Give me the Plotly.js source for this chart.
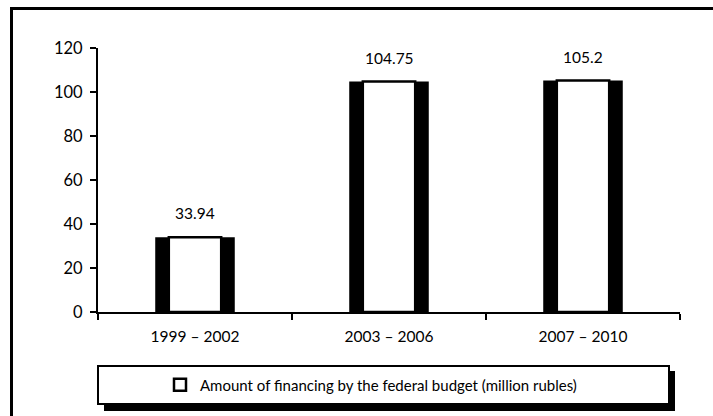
<!DOCTYPE html>
<html>
<head>
<meta charset="utf-8">
<script src="https://cdn.plot.ly/plotly-3.0.1.min.js"></script>
<style>html,body{margin:0;padding:0;background:#fff;}#chart{width:713px;height:416px;}</style>
</head>
<body>
<div id="chart"></div>
<script>
const categories = ["1999 – 2002", "2003 – 2006", "2007 – 2010"];
const values = [33.94, 104.75, 105.2];
const valueLabels = ["33.94", "104.75", "105.2"];
const seriesName = "Amount of financing by the federal budget (million rubles)";
const yTicks = [0, 20, 40, 60, 80, 100, 120];

const FONT = "Lato, 'Open Sans', sans-serif";

const traces = [
  {
    type: "bar", x: categories, y: values, width: 0.41,
    marker: {color: "#000", line: {width: 0}},
    showlegend: false, hoverinfo: "skip"
  },
  {
    type: "bar", x: categories, y: values, width: 0.27, name: seriesName,
    marker: {color: "#fff", line: {color: "#000", width: 2.5}},
    showlegend: true, hoverinfo: "skip"
  }
];

const annotations = categories.map((c, i) => ({
  x: c, y: values[i], xref: "x", yref: "y", text: valueLabels[i],
  showarrow: false, yshift: 24, yanchor: "middle",
  font: {family: FONT, size: 15.5, color: "#000"}
}));

const px = v => (v - 98) / 582;
const py = v => (312 - v) / 264;

const shapes = [
  {type: "rect", xref: "paper", yref: "paper", x0: px(11.5), x1: 1.4, y0: -0.8, y1: py(8.5),
   line: {color: "#000", width: 3}, fillcolor: "rgba(0,0,0,0)"},
  {type: "rect", xref: "paper", yref: "paper", x0: px(104), x1: px(675), y0: py(411), y1: py(371),
   line: {width: 0}, fillcolor: "#000"},
  {type: "rect", xref: "paper", yref: "paper", x0: px(98), x1: px(669), y0: py(404), y1: py(366),
   line: {color: "#000", width: 2}, fillcolor: "#fff"}
];

const layout = {
  width: 713, height: 416,
  margin: {l: 98, r: 33, t: 48, b: 104},
  paper_bgcolor: "#fff", plot_bgcolor: "#fff",
  barmode: "overlay",
  showlegend: true,
  font: {family: FONT, size: 15, color: "#000"},
  xaxis: {
    type: "category", showgrid: false, zeroline: false,
    showline: true, linecolor: "#000", linewidth: 2,
    ticks: "outside", tickson: "boundaries", ticklen: 6, tickwidth: 2, tickcolor: "#000",
    ticklabelstandoff: 9,
    tickfont: {family: FONT, size: 15.5, color: "#000"}
  },
  yaxis: {
    range: [0, 120], tickvals: yTicks, ticktext: yTicks.map(String),
    showgrid: false, zeroline: false,
    showline: true, linecolor: "#000", linewidth: 2,
    ticks: "outside", ticklen: 6, tickwidth: 2, tickcolor: "#000",
    ticklabelstandoff: 4,
    tickfont: {family: FONT, size: 16.5, color: "#000"}
  },
  legend: {
    orientation: "h", x: px(371), xanchor: "center", y: py(385), yanchor: "middle",
    bgcolor: "rgba(0,0,0,0)", borderwidth: 0,
    font: {family: FONT, size: 15, color: "#000"}
  },
  annotations: annotations,
  shapes: shapes
};

Plotly.newPlot("chart", traces, layout, {staticPlot: true, displayModeBar: false});
</script>
</body>
</html>
